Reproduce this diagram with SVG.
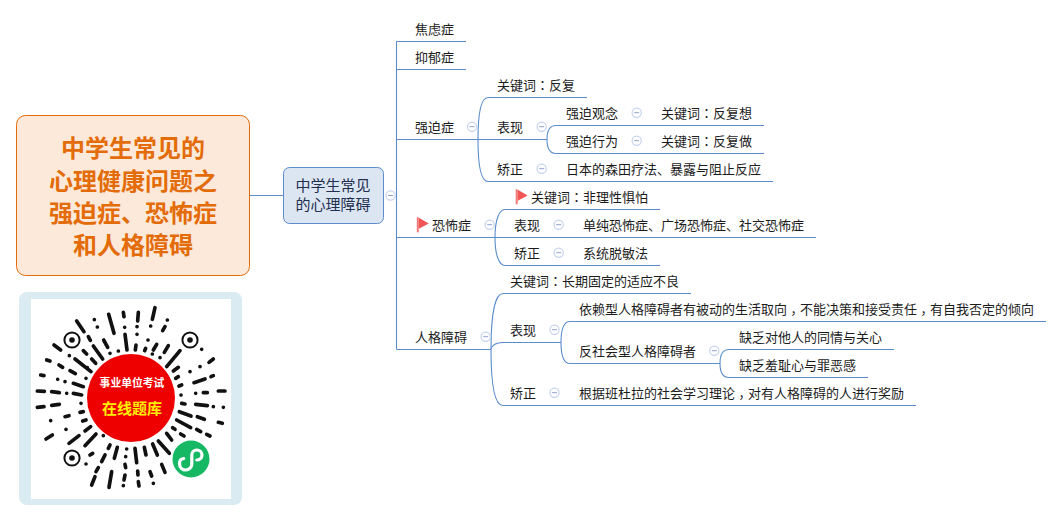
<svg xmlns="http://www.w3.org/2000/svg" width="1062" height="521" viewBox="0 0 1062 521">
<style>
text{font-family:"Noto Sans CJK SC","Microsoft YaHei",sans-serif;}
.t{font-size:13px;fill:#1c1c1c;}
.p{font-family:"Noto Sans CJK TC","Noto Sans CJK SC",sans-serif;}
.c{fill:none;stroke:#5b8ccc;stroke-width:1.1;}
.ci{fill:#fff;stroke:#c6d3ee;stroke-width:1.2;}
.m{stroke:#8fa2cc;stroke-width:1;}
.ray{fill:none;stroke:#111;stroke-width:11;stroke-linecap:round;}
.fd{fill:none;stroke:#111;stroke-width:2;}
</style>
<defs>
<g id="flag"><rect x="0" y="0" width="2" height="15" fill="#f47a7a"/><path d="M2 0.4L12 6.3L2 11.5Z" fill="#f25555"/></g>
<g id="col"><circle class="ci" r="4.6"/><path class="m" d="M-2.5 0H2.5"/></g>
</defs>
<rect width="1062" height="521" fill="#fff"/>

<g id="connectors">
<path class="c" d="M250 195.5H283.5"/>
<path class="c" d="M396.5 41.5V349.5M396.5 41.5H466M396.5 69.5H466M396.5 139.5H547M396.5 237.5H816M396.5 349.5H491"/>
<path class="c" d="M478 139.5C478 110 482 97.5 488 97.5H587M478 139.5C478 169 482 181.5 488 181.5H773"/>
<path class="c" d="M547 139.5C547 131 550 125.5 556 125.5H764M547 139.5C547 148 550 153.5 556 153.5H764"/>
<path class="c" d="M495 237.5C495 220 499 209.5 505 209.5H660M495 237.5C495 255 499 265.5 505 265.5H660"/>
<path class="c" d="M491 349.5C491 310 496 293.5 503 293.5H691M491 349.5C492 345 497 342.5 503 342.5H561M491 349.5C491 390 496 405.5 503 405.5H916"/>
<path class="c" d="M561 342.500C561 330 564 321.500 570 321.500H1046M561 342.500C561 355 564 363.500 570 363.500H720"/>
<path class="c" d="M720 363.500C720 355 723 349.500 729 349.500H894M720 363.500C720 372 723 377.500 729 377.500H868"/>
</g>

<g id="title">
<rect x="16.5" y="115.5" width="233" height="160" rx="9" fill="#fde9d9" stroke="#e36c09" stroke-width="1"/>
<g font-size="24" font-weight="700" fill="#e36c09" text-anchor="middle">
<text x="133" y="157">中学生常见的</text>
<text x="133" y="190">心理健康问题之</text>
<text x="133" y="222">强迫症、恐怖症</text>
<text x="133" y="254">和人格障碍</text>
</g>
</g>

<g id="center">
<rect x="283.5" y="167.5" width="100" height="56" rx="6" fill="#dce6f2" stroke="#5b8ccc" stroke-width="1"/>
<g font-size="15" fill="#1f3050" text-anchor="middle">
<text x="333" y="191">中学生常见</text>
<text x="333" y="210">的心理障碍</text>
</g>
<use href="#col" x="390.5" y="195.5"/>
</g>

<g id="n-jiaolv"><text class="t" x="415" y="34">焦虑症</text></g>
<g id="n-yiyu"><text class="t" x="415" y="62">抑郁症</text></g>

<g id="n-qiangpo"><text class="t" x="415" y="132">强迫症</text><use href="#col" x="472" y="126.7"/></g>
<g id="n-qp-key"><text class="t" x="497" y="90">关键词<tspan class="p">&#xFF1A;</tspan>反复</text></g>
<g id="n-qp-show"><text class="t" x="497" y="132">表现</text><use href="#col" x="541.7" y="126.7"/></g>
<g id="n-qp-idea"><text class="t" x="566" y="118">强迫观念</text><use href="#col" x="636.7" y="112.7"/></g>
<g id="n-qp-idea-key"><text class="t" x="661" y="118">关键词<tspan class="p">&#xFF1A;</tspan>反复想</text></g>
<g id="n-qp-act"><text class="t" x="566" y="146">强迫行为</text><use href="#col" x="636.7" y="140.7"/></g>
<g id="n-qp-act-key"><text class="t" x="661" y="146">关键词<tspan class="p">&#xFF1A;</tspan>反复做</text></g>
<g id="n-qp-fix"><text class="t" x="497" y="174">矫正</text><use href="#col" x="541.7" y="168.7"/></g>
<g id="n-qp-fix-d"><text class="t" x="566" y="174">日本的森田疗法、暴露与阻止反应</text></g>

<g id="n-kongbu"><use href="#flag" x="416.8" y="217.3"/><text class="t" x="432" y="230">恐怖症</text><use href="#col" x="489.7" y="224.7"/></g>
<g id="n-kb-key"><use href="#flag" x="515.7" y="189.3"/><text class="t" x="531" y="202">关键词<tspan class="p">&#xFF1A;</tspan>非理性惧怕</text></g>
<g id="n-kb-show"><text class="t" x="514" y="230">表现</text><use href="#col" x="558.7" y="224.7"/></g>
<g id="n-kb-show-d"><text class="t" x="583" y="230">单纯恐怖症、广场恐怖症、社交恐怖症</text></g>
<g id="n-kb-fix"><text class="t" x="514" y="258">矫正</text><use href="#col" x="558.7" y="252.7"/></g>
<g id="n-kb-fix-d"><text class="t" x="583" y="258">系统脱敏法</text></g>

<g id="n-renge"><text class="t" x="415" y="342">人格障碍</text><use href="#col" x="485.7" y="336.7"/></g>
<g id="n-rg-key"><text class="t" x="510" y="286">关键词<tspan class="p">&#xFF1A;</tspan>长期固定的适应不良</text></g>
<g id="n-rg-show"><text class="t" x="510" y="335">表现</text><use href="#col" x="554.5" y="329.7"/></g>
<g id="n-rg-dep"><text class="t" x="579" y="314">依赖型人格障碍者有被动的生活取向<tspan class="p" dy="3.5">&#xFF0C;</tspan><tspan dy="-3.5">不能决策和接受责任</tspan><tspan class="p" dy="3.5">&#xFF0C;</tspan><tspan dy="-3.5">有自我否定的倾向</tspan></text></g>
<g id="n-rg-anti"><text class="t" x="579" y="356">反社会型人格障碍者</text><use href="#col" x="714.3" y="350.7"/></g>
<g id="n-rg-anti-1"><text class="t" x="739" y="342">缺乏对他人的同情与关心</text></g>
<g id="n-rg-anti-2"><text class="t" x="739" y="370">缺乏羞耻心与罪恶感</text></g>
<g id="n-rg-fix"><text class="t" x="510" y="398">矫正</text><use href="#col" x="554.5" y="392.7"/></g>
<g id="n-rg-fix-d"><text class="t" x="579" y="398">根据班杜拉的社会学习理论<tspan class="p" dy="3.5">&#xFF0C;</tspan><tspan dy="-3.5">对有人格障碍的人进行奖励</tspan></text></g>

<g id="qr">
<rect x="19" y="292" width="223" height="213" rx="8" fill="#daebf1"/>
<rect x="31" y="299" width="200" height="200" fill="#fff"/>
<g transform="translate(10 285) scale(.33333)">
<path class="ray" d="M200 108L222 140M253 104h.1M262 126h.1M296 88L312 145M340 82L342 95M385 82L383 108M435 68L427 103M472 105h.1M465 125L458 137M344 127h.1M381 125h.1M422 123h.1M345 148L351 195M381 148h.1M378 180L376 195M414 165h.1M440 178L430 195M407 190L404 197M475 182L463 202M575 193h.1M510 197L470 245M427 207h.1M450 218h.1M235 155L241 166M281 165L293 187M250 183L278 222M220 197L230 207M300 205h.1M325 198h.1M132 180L152 195M178 212h.1M245 222L257 235M195 222L243 260M110 225L120 228M147 240L158 247M180 257L196 266M232 248h.1M610 222L597 232M570 245h.1M540 260h.1M505 247L490 258M505 275L497 280M610 272L603 275M585 282L552 293M92 270L102 272M143 283h.1M165 290h.1M190 295L220 305M228 280h.1M515 300L507 303M82 318L103 319M125 320L148 323M170 325h.1M190 325L215 330M513 330h.1M557 325h.1M580 323L592 323M625 318L645 318M82 367L102 365M125 361L148 358M213 355h.1M515 355L525 357M557 358L592 362M610 365h.1M640 367h.1M165 395L177 392M210 382L220 380M508 380L543 393M562 395L583 403M122 407h.1M218 408L228 405M625 412L637 415M500 405L542 428M168 433h.1M225 438L242 425M488 428L495 433M560 433L572 440M512 447L522 453M590 448L600 453M108 462L127 450M177 475L207 452M225 482L258 447M470 445L485 465M280 452h.1M300 480L295 490M240 510L248 505M445 468L478 505M428 477L442 510M403 487L408 510M375 490L380 533M350 492h.1M322 487L313 520M285 510L275 530M228 537h.1M347 515h.1M265 548L258 560M345 538L347 548M383 558L384 570M420 560L425 573M455 538L465 562M305 560L297 607M245 600L255 575M345 570L342 585M340 602h.1M385 590L387 603M430 595h.1"/>
</g>
<circle class="fd" cx="72" cy="340" r="7.6"/><circle cx="72" cy="340" r="2.8" fill="#111"/>
<circle class="fd" cx="190" cy="340" r="7.6"/><circle cx="190" cy="340" r="2.8" fill="#111"/>
<circle class="fd" cx="72" cy="458" r="7.6"/><circle cx="72" cy="458" r="2.8" fill="#111"/>
<circle cx="131" cy="398" r="44" fill="#ee0000"/>
<text x="132" y="387" font-size="10.8" font-weight="700" fill="#fff" text-anchor="middle">事业单位考试</text>
<text x="132" y="413.500" font-size="15" font-weight="700" fill="#ffee00" text-anchor="middle">在线题库</text>
<circle cx="191" cy="459" r="18.500" fill="#16b863"/>
<path d="M179.500 463.500c0 4 3 6.500 6.300 6.500s6-2.800 6-6v-9c0-2.800 2.200-5 5-5s5.200 2.200 5.200 5-2.400 5-5.200 5" fill="none" stroke="#fff" stroke-width="3.200" stroke-linecap="round"/>
<path d="M179.500 463.500c0-2.600 1.800-4.600 4.200-5" fill="none" stroke="#fff" stroke-width="3.200" stroke-linecap="round"/>
</g>
</svg>
